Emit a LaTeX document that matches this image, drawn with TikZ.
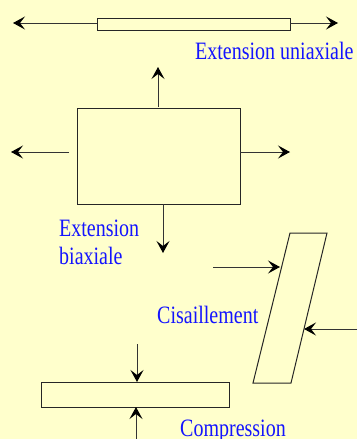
\documentclass[tikz,border=0pt]{standalone}
\usepackage{fontspec}
\setmainfont{Liberation Serif}
\usetikzlibrary{arrows.meta}
\definecolor{paper}{RGB}{255,255,204}
\definecolor{labelblue}{RGB}{20,20,255}
\tikzset{
  body/.style={draw=black!85, line width=1pt},
  force/.style={draw=black!80, line width=1pt, -{Stealth[length=12pt,width=13pt,inset=5pt,color=black]}},
  caption/.style={text=labelblue, font=\fontsize{20}{22}\selectfont, inner sep=0pt, anchor=base west},
}
\newcommand{\tallcap}[1]{\scalebox{1}[1.25]{#1}}
\begin{document}
\begin{tikzpicture}[x=1pt, y=-1pt]
  \fill[paper] (0,0) rectangle (357,439);
  \useasboundingbox (0,0) rectangle (357,439);

  % uniaxial extension
  \node[body, minimum width=193pt, minimum height=12pt, inner sep=0pt] (bar) at (193.5,24) {};
  \coordinate (barL) at (97,23);
  \coordinate (barR) at (290,23);
  \coordinate (tipL) at (13,23);
  \coordinate (tipR) at (338,23);
  \draw[force] (barL) -- (tipL);
  \draw[force] (barR) -- (tipR);
  \node[caption] (uni) at (195,59) {\tallcap{Extension uniaxiale}};

  % biaxial extension
  \node[body, minimum width=163pt, minimum height=96pt, inner sep=0pt] (plate) at (158.5,156) {};
  \coordinate (upS) at (158,107);
  \coordinate (upT) at (158,67);
  \coordinate (dnS) at (163,204);
  \coordinate (dnT) at (163,253);
  \coordinate (lfS) at (69,152);
  \coordinate (lfT) at (11,152);
  \coordinate (rtS) at (240,152);
  \coordinate (rtT) at (290,152);
  \draw[force] (upS) -- (upT);
  \draw[force] (dnS) -- (dnT);
  \draw[force] (lfS) -- (lfT);
  \draw[force] (rtS) -- (rtT);
  \node[caption] (bi1) at (59,236) {\tallcap{Extension}};
  \node[caption] (bi2) at (59,264) {\tallcap{biaxiale}};

  % shear
  \coordinate (pTL) at (290,233);
  \coordinate (pTR) at (327,233);
  \coordinate (pBR) at (291,383);
  \coordinate (pBL) at (253,383);
  \draw[body, line join=miter] (pTL) -- (pTR) -- (pBR) -- (pBL) -- cycle;
  \coordinate (shAS) at (213,267);
  \coordinate (shAT) at (280,267);
  \coordinate (shBS) at (357,329);
  \coordinate (shBT) at (304,329);
  \draw[force] (shAS) -- (shAT);
  \draw[force] (shBS) -- (shBT);
  \node[caption] (shear) at (157,323) {\tallcap{Cisaillement}};

  % compression
  \node[body, minimum width=188pt, minimum height=25pt, inner sep=0pt] (slab) at (135,394.5) {};
  \coordinate (cTS) at (137,344);
  \coordinate (cTT) at (137,382);
  \coordinate (cBS) at (136,440);
  \coordinate (cBT) at (136,407);
  \draw[force] (cTS) -- (cTT);
  \draw[force] (cBS) -- (cBT);
  \node[caption] (comp) at (180,436) {\tallcap{Compression}};
\end{tikzpicture}
\end{document}
